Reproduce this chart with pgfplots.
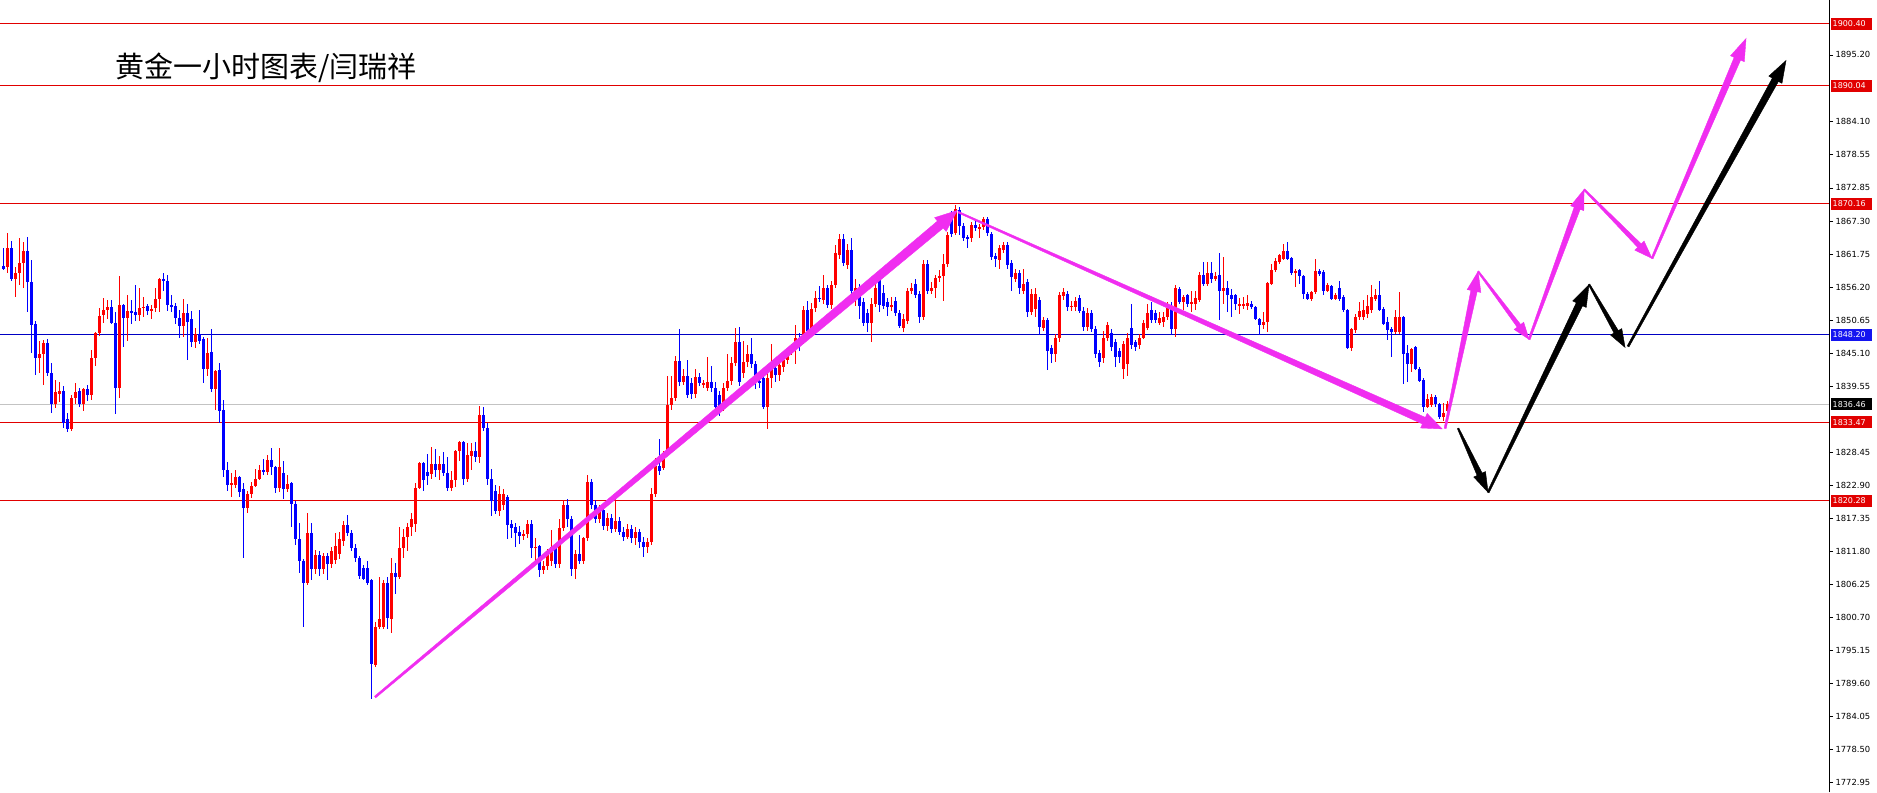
\documentclass[border=0pt]{standalone}
\usepackage{pgfplots}
\pgfplotsset{compat=1.18}
\usepackage{pgfplotstable}
\usepackage{fontspec}
\newfontfamily\dejavu{DejaVu Sans}
\newfontfamily\cjk{Noto Sans CJK SC}

\definecolor{upred}{RGB}{255,0,0}
\definecolor{dnblue}{RGB}{0,0,255}
\definecolor{lvred}{RGB}{225,0,0}
\definecolor{lvblue}{RGB}{0,0,195}
\definecolor{boxblue}{RGB}{20,20,240}
\definecolor{lvgray}{RGB}{195,195,195}
\definecolor{arrmag}{RGB}{240,45,240}

% hourly gold candles: index, open, high, low, close
\pgfplotstableread{
i o h l c
0 1859.8 1862.7 1859.0 1859.3
1 1859.5 1865.2 1858.6 1862.7
2 1862.7 1864.0 1857.3 1857.5
3 1857.5 1859.5 1854.5 1858.5
4 1858.5 1864.5 1856.5 1860.3
5 1860.3 1863.8 1856.0 1862.2
6 1862.2 1864.6 1852.0 1857.0
7 1857.0 1860.7 1845.2 1849.8
8 1850.0 1850.5 1841.4 1844.2
9 1844.2 1847.2 1841.8 1845.0
10 1845.0 1847.3 1839.7 1846.8
11 1846.8 1847.5 1841.2 1841.8
12 1841.8 1843.4 1835.1 1836.6
13 1836.6 1840.5 1835.8 1838.5
14 1838.3 1840.3 1836.8 1838.7
15 1838.7 1839.5 1832.5 1833.3
16 1834.0 1835.0 1831.8 1832.4
17 1832.3 1838.0 1832.0 1837.5
18 1837.5 1840.0 1836.5 1838.5
19 1838.7 1839.2 1836.0 1836.5
20 1836.5 1839.3 1835.4 1839.0
21 1839.0 1839.8 1837.0 1838.0
22 1838.0 1845.7 1837.2 1844.2
23 1844.2 1848.6 1843.0 1848.4
24 1848.4 1852.6 1848.0 1851.4
25 1851.5 1854.3 1850.2 1852.4
26 1852.4 1854.0 1850.8 1852.9
27 1852.9 1854.0 1850.0 1850.2
28 1850.2 1852.0 1834.8 1839.2
29 1839.2 1858.0 1837.6 1853.2
30 1853.2 1853.4 1846.2 1851.0
31 1851.0 1854.8 1847.2 1852.2
32 1852.2 1854.0 1850.0 1851.9
33 1852.0 1856.5 1850.5 1851.5
34 1851.5 1856.0 1850.5 1852.7
35 1852.7 1854.6 1851.2 1852.9
36 1853.0 1853.3 1851.5 1852.2
37 1852.2 1853.2 1850.8 1852.6
38 1852.6 1856.0 1852.0 1854.2
39 1854.2 1857.8 1852.0 1857.5
40 1857.5 1858.6 1855.5 1857.2
41 1857.3 1858.3 1852.1 1853.2
42 1853.2 1854.8 1852.0 1853.0
43 1853.0 1853.6 1850.0 1851.0
44 1851.0 1852.3 1847.6 1849.6
45 1849.6 1854.2 1847.8 1851.8
46 1851.8 1853.4 1843.9 1850.4
47 1850.8 1852.2 1846.2 1846.9
48 1846.9 1849.4 1846.0 1848.3
49 1848.3 1852.3 1846.6 1847.2
50 1847.4 1847.8 1840.0 1842.5
51 1842.5 1847.6 1841.2 1845.2
52 1845.2 1849.1 1838.6 1839.1
53 1839.1 1842.2 1835.6 1842.1
54 1842.2 1843.4 1833.3 1835.4
55 1835.6 1837.2 1824.2 1825.5
56 1825.5 1826.8 1821.9 1823.0
57 1823.0 1824.9 1821.0 1823.3
58 1823.0 1825.5 1822.4 1824.2
59 1824.2 1824.5 1821.0 1821.7
60 1822.2 1823.3 1810.6 1819.1
61 1819.0 1822.0 1818.3 1821.5
62 1821.5 1823.5 1820.8 1822.8
63 1822.8 1825.7 1822.6 1824.0
64 1824.0 1826.3 1823.7 1825.4
65 1825.4 1827.3 1824.7 1825.2
66 1825.1 1828.0 1824.6 1827.1
67 1827.1 1829.1 1824.7 1826.0
68 1826.0 1826.1 1821.6 1822.4
69 1822.4 1829.1 1821.8 1826.0
70 1825.0 1827.0 1820.5 1822.3
71 1822.3 1824.6 1821.8 1823.1
72 1823.2 1823.5 1815.8 1819.8
73 1819.8 1820.3 1812.8 1813.9
74 1813.9 1816.5 1808.2 1810.2
75 1810.2 1810.5 1799.0 1806.4
76 1806.4 1818.3 1806.1 1814.8
77 1814.8 1816.6 1806.9 1808.8
78 1808.8 1812.0 1808.0 1811.2
79 1811.2 1811.9 1807.7 1808.8
80 1808.8 1811.5 1808.0 1811.0
81 1811.0 1811.5 1806.9 1809.6
82 1809.6 1812.5 1809.0 1811.9
83 1810.3 1814.8 1809.6 1812.6
84 1811.3 1815.0 1810.5 1813.9
85 1813.6 1816.9 1812.7 1816.2
86 1816.2 1817.9 1814.3 1814.9
87 1814.9 1815.3 1811.8 1812.4
88 1812.4 1813.0 1810.0 1810.6
89 1810.6 1811.0 1807.2 1807.7
90 1809.0 1809.5 1806.9 1807.2
91 1809.0 1810.1 1806.2 1806.5
92 1806.9 1807.2 1786.9 1792.9
93 1792.7 1800.0 1792.3 1799.0
94 1799.0 1807.4 1798.8 1800.5
95 1799.0 1807.0 1798.8 1806.5
96 1806.5 1807.4 1798.8 1800.5
97 1800.5 1810.6 1798.0 1808.2
98 1808.2 1809.8 1804.7 1807.4
99 1807.4 1815.8 1807.2 1812.3
100 1812.3 1815.6 1810.6 1814.2
101 1814.2 1816.6 1811.8 1815.8
102 1815.8 1818.3 1814.4 1817.3
103 1816.3 1823.3 1815.0 1822.5
104 1822.5 1826.8 1822.3 1826.6
105 1826.6 1826.8 1822.0 1823.7
106 1825.2 1828.1 1823.0 1824.5
107 1824.8 1829.3 1824.0 1826.4
108 1826.4 1828.9 1824.3 1825.4
109 1825.4 1827.8 1823.8 1826.4
110 1826.4 1828.5 1824.5 1825.0
111 1825.0 1827.6 1822.0 1822.5
112 1822.5 1825.3 1821.9 1823.7
113 1823.7 1828.8 1822.6 1828.6
114 1828.6 1830.4 1827.0 1830.2
115 1830.2 1830.4 1823.0 1824.0
116 1824.0 1830.0 1823.5 1828.0
117 1827.8 1830.0 1825.5 1828.6
118 1828.6 1830.2 1826.8 1827.6
119 1827.6 1836.2 1826.7 1834.7
120 1834.7 1836.0 1832.0 1832.5
121 1832.5 1833.3 1823.0 1824.0
122 1824.0 1825.7 1817.8 1820.3
123 1822.0 1823.0 1818.0 1818.6
124 1818.6 1822.8 1817.8 1821.5
125 1819.5 1822.3 1818.8 1821.4
126 1821.0 1821.2 1813.8 1816.2
127 1816.4 1817.0 1814.0 1815.7
128 1815.8 1816.6 1812.6 1814.9
129 1815.0 1816.0 1813.0 1814.3
130 1814.3 1815.3 1813.7 1814.7
131 1814.7 1817.0 1814.0 1816.4
132 1816.4 1817.0 1810.6 1812.3
133 1812.3 1814.0 1810.0 1812.6
134 1812.6 1812.8 1807.5 1808.6
135 1808.6 1810.2 1808.0 1809.3
136 1809.3 1812.2 1808.6 1811.8
137 1810.1 1815.4 1809.4 1812.6
138 1812.6 1813.0 1809.0 1809.6
139 1809.6 1817.3 1809.0 1815.7
140 1815.7 1820.5 1815.2 1819.6
141 1819.6 1820.5 1815.8 1817.3
142 1817.3 1817.8 1807.7 1808.8
143 1808.8 1812.0 1807.2 1811.4
144 1811.4 1814.6 1809.7 1810.2
145 1810.2 1814.2 1809.6 1814.1
146 1814.1 1824.7 1813.6 1823.4
147 1823.4 1824.0 1818.9 1819.5
148 1819.5 1820.4 1816.5 1817.2
149 1817.2 1819.6 1816.6 1818.8
150 1818.8 1819.4 1815.4 1816.0
151 1816.0 1818.3 1815.2 1817.4
152 1817.4 1818.0 1814.9 1815.6
153 1815.6 1820.8 1815.0 1816.9
154 1816.9 1817.5 1814.5 1815.1
155 1815.1 1815.9 1813.6 1814.2
156 1814.2 1816.4 1813.8 1815.5
157 1815.5 1816.2 1813.2 1814.0
158 1814.0 1815.8 1812.9 1815.0
159 1815.0 1815.6 1812.4 1813.4
160 1813.4 1814.2 1810.9 1812.6
161 1812.6 1814.0 1811.5 1813.4
162 1813.4 1822.4 1812.8 1821.5
163 1821.5 1827.5 1820.9 1826.2
164 1826.2 1830.7 1824.6 1825.3
165 1825.8 1828.6 1825.5 1828.4
166 1828.4 1841.3 1828.0 1836.3
167 1836.3 1841.3 1835.5 1837.6
168 1837.6 1844.7 1837.0 1843.7
169 1843.7 1849.1 1839.5 1840.2
170 1840.2 1842.5 1839.8 1841.2
171 1841.2 1843.9 1837.5 1838.0
172 1840.0 1841.0 1837.4 1838.2
173 1838.2 1842.4 1837.6 1841.0
174 1841.0 1841.8 1839.5 1840.0
175 1839.8 1840.6 1839.3 1840.1
176 1839.3 1844.4 1838.8 1840.3
177 1840.3 1843.0 1838.6 1839.2
178 1839.3 1840.3 1835.6 1836.0
179 1838.0 1838.8 1834.6 1836.2
180 1835.9 1840.0 1835.4 1839.3
181 1839.3 1844.9 1838.8 1840.4
182 1840.4 1844.4 1839.7 1843.4
183 1843.4 1849.4 1843.0 1846.9
184 1846.9 1849.4 1839.6 1840.3
185 1841.8 1847.2 1841.0 1843.6
186 1843.6 1846.4 1842.8 1844.9
187 1845.0 1847.7 1842.6 1843.3
188 1843.3 1843.8 1839.0 1840.4
189 1840.4 1841.5 1839.2 1840.0
190 1840.9 1842.0 1835.7 1836.1
191 1836.1 1842.5 1832.4 1840.9
192 1840.9 1846.6 1839.3 1842.6
193 1842.6 1843.4 1840.3 1841.4
194 1841.4 1843.8 1840.4 1843.1
195 1842.7 1845.0 1842.0 1844.0
196 1843.9 1846.0 1843.3 1845.2
197 1845.2 1846.6 1844.8 1845.9
198 1845.9 1849.8 1843.3 1847.7
199 1847.7 1848.5 1845.5 1846.9
200 1847.5 1853.0 1846.7 1852.3
201 1852.3 1853.9 1848.0 1848.9
202 1849.2 1853.5 1848.5 1852.6
203 1852.6 1855.5 1852.0 1854.4
204 1854.4 1856.3 1853.6 1854.2
205 1854.0 1858.2 1853.4 1856.1
206 1856.1 1856.6 1852.6 1853.1
207 1853.1 1857.2 1852.6 1856.5
208 1856.5 1863.2 1856.0 1861.9
209 1861.6 1865.1 1860.9 1864.3
210 1864.3 1865.2 1859.7 1860.3
211 1859.9 1863.5 1859.3 1862.4
212 1862.4 1864.5 1854.0 1855.6
213 1855.6 1857.6 1853.0 1856.0
214 1856.0 1856.8 1850.9 1853.1
215 1853.6 1854.3 1849.6 1850.2
216 1851.9 1852.5 1848.6 1850.2
217 1850.2 1854.3 1846.9 1853.4
218 1853.4 1857.8 1852.8 1856.1
219 1857.3 1858.6 1852.0 1853.1
220 1855.2 1856.5 1852.5 1853.1
221 1853.6 1854.4 1851.3 1852.8
222 1852.8 1854.5 1852.2 1853.2
223 1853.8 1854.5 1851.4 1851.9
224 1851.9 1852.3 1849.3 1849.7
225 1849.4 1851.6 1848.7 1850.9
226 1850.5 1856.1 1850.0 1855.6
227 1855.6 1856.8 1855.0 1856.0
228 1856.8 1857.6 1854.3 1854.8
229 1855.1 1855.6 1850.2 1851.1
230 1851.1 1860.8 1850.6 1860.1
231 1860.1 1860.7 1855.0 1855.6
232 1855.6 1857.0 1855.0 1856.1
233 1856.0 1858.3 1854.4 1857.8
234 1857.8 1859.0 1857.0 1858.1
235 1858.1 1861.8 1853.9 1860.1
236 1860.1 1865.5 1859.6 1864.9
237 1868.5 1869.0 1864.6 1865.2
238 1865.2 1870.0 1864.9 1869.3
239 1869.2 1869.6 1864.9 1866.5
240 1866.5 1867.0 1864.0 1864.4
241 1864.6 1865.0 1862.7 1864.2
242 1864.4 1867.2 1863.8 1866.7
243 1866.7 1867.3 1865.6 1866.1
244 1866.0 1866.8 1864.5 1866.3
245 1866.3 1868.0 1865.8 1867.6
246 1867.6 1868.0 1864.8 1865.2
247 1865.2 1865.5 1860.7 1861.2
248 1861.4 1862.0 1859.5 1861.0
249 1860.8 1863.3 1859.3 1862.7
250 1862.4 1863.8 1862.0 1863.3
251 1863.3 1863.8 1859.3 1859.9
252 1860.2 1860.8 1855.6 1857.8
253 1857.6 1859.3 1857.0 1858.6
254 1858.5 1859.0 1855.1 1856.0
255 1855.6 1859.3 1855.0 1856.8
256 1857.0 1857.6 1851.1 1852.0
257 1852.0 1855.8 1851.5 1855.1
258 1852.6 1856.1 1851.1 1855.1
259 1854.1 1854.6 1848.1 1849.4
260 1849.4 1851.2 1848.9 1850.6
261 1850.6 1851.0 1842.2 1845.5
262 1845.9 1846.4 1843.4 1845.0
263 1845.0 1848.3 1843.6 1847.7
264 1847.7 1855.3 1847.0 1854.8
265 1854.7 1856.1 1854.0 1855.3
266 1855.1 1855.6 1852.2 1852.8
267 1852.8 1853.9 1852.2 1853.1
268 1852.8 1854.6 1852.2 1853.9
269 1854.3 1854.8 1851.8 1852.2
270 1852.2 1852.8 1848.8 1849.4
271 1849.4 1852.6 1848.8 1851.9
272 1851.9 1852.4 1848.6 1849.2
273 1849.2 1849.6 1844.3 1845.0
274 1845.2 1845.7 1842.7 1843.6
275 1844.2 1848.9 1843.5 1847.7
276 1847.7 1850.4 1847.2 1849.8
277 1848.4 1849.2 1845.5 1846.1
278 1846.9 1847.4 1842.8 1844.4
279 1845.5 1846.0 1843.5 1844.4
280 1842.5 1847.1 1840.8 1846.7
281 1843.3 1848.5 1841.3 1847.7
282 1849.4 1853.4 1845.8 1846.4
283 1846.9 1847.3 1845.5 1846.1
284 1846.4 1848.3 1845.8 1847.7
285 1847.7 1850.7 1847.4 1850.2
286 1849.4 1853.4 1849.0 1851.8
287 1852.3 1853.6 1850.2 1850.6
288 1851.8 1852.3 1850.2 1850.6
289 1850.2 1852.0 1849.8 1851.0
290 1850.4 1852.0 1849.5 1851.2
291 1851.2 1853.7 1850.6 1852.7
292 1853.1 1853.7 1848.1 1849.2
293 1849.2 1856.5 1847.8 1856.1
294 1855.9 1856.2 1853.3 1853.7
295 1853.7 1854.8 1852.3 1854.5
296 1854.8 1855.1 1852.9 1853.4
297 1853.4 1855.6 1852.0 1853.7
298 1853.4 1855.6 1852.3 1854.3
299 1854.0 1858.7 1853.7 1858.3
300 1858.3 1860.4 1856.4 1856.7
301 1856.7 1860.4 1856.4 1858.5
302 1858.5 1860.4 1856.9 1857.6
303 1857.6 1858.8 1857.2 1858.1
304 1858.3 1861.9 1850.6 1855.6
305 1855.6 1861.3 1853.4 1856.1
306 1856.1 1857.3 1852.0 1854.8
307 1854.8 1855.9 1851.2 1854.2
308 1854.8 1855.0 1852.3 1853.4
309 1853.0 1854.4 1851.7 1853.3
310 1853.0 1854.5 1852.5 1853.4
311 1853.0 1854.8 1852.3 1853.5
312 1853.4 1853.8 1852.5 1852.8
313 1852.8 1853.0 1850.7 1850.9
314 1850.9 1851.0 1848.1 1849.8
315 1849.8 1852.0 1849.2 1850.3
316 1850.3 1857.0 1848.6 1856.9
317 1856.7 1860.1 1856.5 1859.0
318 1859.0 1861.0 1858.7 1860.6
319 1860.4 1861.8 1860.1 1861.5
320 1860.9 1863.5 1860.7 1862.2
321 1862.2 1863.7 1860.7 1860.9
322 1861.1 1861.3 1858.2 1858.5
323 1858.5 1859.3 1856.2 1858.9
324 1859.1 1859.3 1856.7 1858.1
325 1858.1 1858.3 1854.2 1855.1
326 1855.1 1855.3 1854.0 1854.2
327 1854.2 1855.6 1853.9 1855.3
328 1855.3 1860.9 1855.0 1858.9
329 1858.9 1859.2 1858.0 1858.4
330 1858.7 1859.1 1854.8 1855.6
331 1855.6 1856.9 1855.4 1856.5
332 1856.3 1856.6 1854.0 1854.2
333 1854.2 1855.2 1854.0 1854.8
334 1856.1 1857.3 1853.9 1854.2
335 1854.5 1854.8 1852.0 1852.3
336 1852.3 1852.5 1845.8 1846.0
337 1846.0 1849.4 1845.5 1849.2
338 1849.0 1851.7 1848.4 1851.2
339 1851.2 1853.7 1850.7 1852.1
340 1851.2 1854.0 1850.6 1852.3
341 1851.7 1854.8 1851.0 1853.1
342 1852.3 1856.5 1851.8 1854.5
343 1854.2 1855.9 1853.9 1854.8
344 1854.8 1857.3 1852.1 1852.4
345 1852.6 1852.8 1849.8 1850.0
346 1850.3 1851.2 1847.3 1848.9
347 1849.2 1849.4 1844.4 1848.6
348 1848.6 1852.3 1848.3 1851.2
349 1848.6 1855.3 1848.3 1851.2
350 1851.2 1851.4 1839.9 1845.0
351 1845.2 1846.4 1840.2 1843.3
352 1843.3 1846.0 1841.9 1845.8
353 1846.1 1846.3 1842.2 1842.5
354 1842.5 1842.7 1840.3 1840.5
355 1840.6 1840.9 1835.2 1836.0
356 1836.0 1838.2 1835.8 1837.4
357 1836.3 1838.3 1836.0 1837.7
358 1837.7 1838.0 1836.0 1836.5
359 1836.5 1836.7 1834.1 1834.3
360 1834.3 1836.7 1833.7 1835.1
361 1835.3 1837.0 1834.0 1836.46
}\candles

\begin{document}
\begin{tikzpicture}[
  lbl/.style={anchor=west, text=white, font=\dejavu\fontsize{8}{9}\selectfont,
    inner xsep=2pt, inner ysep=0pt, text width=37pt, minimum height=12pt, xshift=1.5pt}]
\pgfplotsset{candle/.style={draw=none, mark=none, forget plot,
  error bars/y dir=both, error bars/y explicit, error bars/error mark=none}}
\begin{axis}[
  at={(0,0)}, anchor=south west,
  width=1829pt, height=792pt, scale only axis,
  xmin=-0.75, xmax=456.5, ymin=1771.29, ymax=1904.35,
  axis x line=none, axis y line*=right,
  axis line style={black, line width=1pt},
  clip=false,
  ytick={1772.95,1778.50,1784.05,1789.60,1795.15,1800.70,1806.25,1811.80,1817.35,1822.90,1828.45,1839.55,1845.10,1850.65,1856.20,1861.75,1867.30,1872.85,1878.55,1884.10,1895.20},
  yticklabels={1772.95,1778.50,1784.05,1789.60,1795.15,1800.70,1806.25,1811.80,1817.35,1822.90,1828.45,1839.55,1845.10,1850.65,1856.20,1861.75,1867.30,1872.85,1878.55,1884.10,1895.20},
  tick align=outside, major tick length=4pt,
  tick style={black, line width=0.8pt},
  yticklabel style={font=\dejavu\fontsize{8.4}{9}\selectfont, anchor=west, xshift=-1pt},
]
% level lines
\addplot[lvred, line width=1pt, forget plot] coordinates {(-0.75,1900.40) (456.5,1900.40)};
\addplot[lvred, line width=1pt, forget plot] coordinates {(-0.75,1890.04) (456.5,1890.04)};
\addplot[lvred, line width=1pt, forget plot] coordinates {(-0.75,1870.16) (456.5,1870.16)};
\addplot[lvblue, line width=1pt, forget plot] coordinates {(-0.75,1848.20) (456.5,1848.20)};
\addplot[lvgray, line width=1pt, forget plot] coordinates {(-0.75,1836.46) (456.5,1836.46)};
\addplot[lvred, line width=1pt, forget plot] coordinates {(-0.75,1833.47) (456.5,1833.47)};
\addplot[lvred, line width=1pt, forget plot] coordinates {(-0.75,1820.28) (456.5,1820.28)};

% bull candles (red)
\addplot[candle, restrict expr to domain={\thisrow{c}-\thisrow{o}}{0:1000},
  error bars/error bar style={draw=upred, line width=1pt}]
  table[x=i, y expr={(\thisrow{h}+\thisrow{l})/2}, y error expr={(\thisrow{h}-\thisrow{l})/2}] {\candles};
\addplot[candle, restrict expr to domain={\thisrow{c}-\thisrow{o}}{0:1000},
  error bars/error bar style={draw=upred, line width=3pt}]
  table[x=i, y expr={(\thisrow{o}+\thisrow{c})/2}, y error expr={(\thisrow{c}-\thisrow{o})/2}] {\candles};
% bear candles (blue)
\addplot[candle, restrict expr to domain={\thisrow{o}-\thisrow{c}}{0.0001:1000},
  error bars/error bar style={draw=dnblue, line width=1pt}]
  table[x=i, y expr={(\thisrow{h}+\thisrow{l})/2}, y error expr={(\thisrow{h}-\thisrow{l})/2}] {\candles};
\addplot[candle, restrict expr to domain={\thisrow{o}-\thisrow{c}}{0.0001:1000},
  error bars/error bar style={draw=dnblue, line width=3pt}]
  table[x=i, y expr={(\thisrow{o}+\thisrow{c})/2}, y error expr={(\thisrow{o}-\thisrow{c})/2}] {\candles};

% price boxes on the right scale
\node[lbl, fill=lvred] at (axis cs:456.5,1900.40) {1900.40};
\node[lbl, fill=lvred] at (axis cs:456.5,1890.04) {1890.04};
\node[lbl, fill=lvred] at (axis cs:456.5,1870.16) {1870.16};
\node[lbl, fill=boxblue] at (axis cs:456.5,1848.20) {1848.20};
\node[lbl, fill=black] at (axis cs:456.5,1836.46) {1836.46};
\node[lbl, fill=lvred] at (axis cs:456.5,1833.47) {1833.47};
\node[lbl, fill=lvred] at (axis cs:456.5,1820.28) {1820.28};
\end{axis}

% drawing layer in screen pixels (y down)
\begin{axis}[
  at={(0,0)}, anchor=south west,
  width=1829pt, height=792pt, scale only axis,
  xmin=0, xmax=1829, ymin=0, ymax=792, y dir=reverse,
  hide axis, clip=false]
\addplot[fill=arrmag, draw=arrmag, line width=0.4pt] coordinates {(375.3,697.5) (943.0,227.6) (945.9,231.0) (957,210) (934.3,217.2) (937.2,220.6) (374.1,695.9)} -- cycle;
\addplot[fill=arrmag, draw=arrmag, line width=0.4pt] coordinates {(957.67,212.43) (1422.28,423.59) (1420.48,427.6) (1442,428.5) (1427.02,413.0) (1425.22,417.01) (958.33,210.97)} -- cycle;
\addplot[fill=arrmag, draw=arrmag, line width=0.4pt] coordinates {(1445.98,428.21) (1477.02,291.24) (1480.74,292.02) (1478,271) (1467.04,289.14) (1470.76,289.92) (1444.02,427.79)} -- cycle;
\addplot[fill=arrmag, draw=arrmag, line width=0.4pt] coordinates {(1477.36,271.48) (1517.04,326.72) (1514.0,329.0) (1529,339) (1523.6,321.8) (1520.56,324.08) (1478.64,270.52)} -- cycle;
\addplot[fill=arrmag, draw=arrmag, line width=0.4pt] coordinates {(1529.94,339.34) (1580.12,208.87) (1583.69,210.18) (1584,189) (1570.55,205.36) (1574.12,206.67) (1528.06,338.66)} -- cycle;
\addplot[fill=arrmag, draw=arrmag, line width=0.4pt] coordinates {(1583.43,189.56) (1637.59,246.93) (1634.74,249.74) (1652,258) (1644.0,240.62) (1641.15,243.43) (1584.57,188.44)} -- cycle;
\addplot[fill=arrmag, draw=arrmag, line width=0.4pt] coordinates {(1652.92,258.39) (1740.57,59.61) (1744.25,61.18) (1746,38) (1730.45,55.28) (1734.13,56.85) (1651.08,257.61)} -- cycle;
\addplot[fill=black, draw=black, line width=0.4pt] coordinates {(1457.28,428.34) (1476.98,475.09) (1473.63,476.66) (1488,492) (1485.39,471.14) (1482.04,472.71) (1458.72,427.66)} -- cycle;
\addplot[fill=black, draw=black, line width=0.4pt] coordinates {(1488.9,492.44) (1582.54,305.32) (1586.14,307.07) (1589,284) (1572.64,300.51) (1576.24,302.26) (1487.1,491.56)} -- cycle;
\addplot[fill=black, draw=black, line width=0.4pt] coordinates {(1588.31,284.4) (1613.9,332.62) (1610.43,334.6) (1625,347) (1621.71,328.16) (1618.24,330.14) (1589.69,283.6)} -- cycle;
\addplot[fill=black, draw=black, line width=0.4pt] coordinates {(1628.88,346.48) (1778.42,80.95) (1781.93,82.89) (1786,60) (1768.79,75.63) (1772.3,77.57) (1627.12,345.52)} -- cycle;

\node[anchor=west, inner sep=0pt, font=\cjk\fontsize{29}{29}\selectfont] at (axis cs:115,67) {黄金一小时图表/闫瑞祥};
\end{axis}
\path (0,0) rectangle (1877pt,792pt);
\end{tikzpicture}
\end{document}
